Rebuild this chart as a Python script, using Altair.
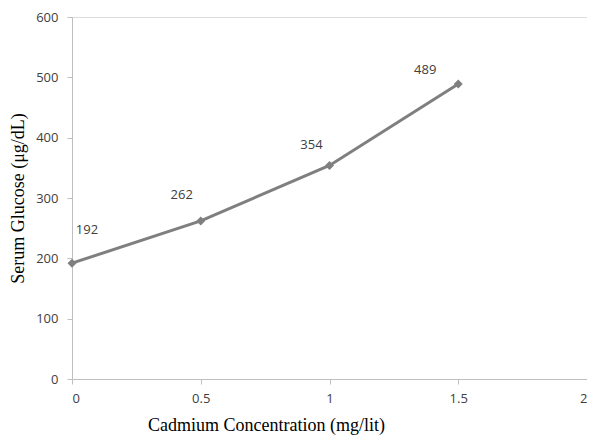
import altair as alt
import pandas as pd

conc = [0, 0.5, 1, 1.5]
glucose = [192, 262, 354, 489]
labels = ["192", "262", "354", "489"]

df = pd.DataFrame({"conc": conc, "glucose": glucose, "label": labels})

x = alt.X("conc:Q", scale=alt.Scale(domain=[0, 2]),
          axis=alt.Axis(values=[0, 0.5, 1, 1.5, 2], format="~g", grid=False,
                        title="Cadmium Concentration (mg/lit)",
                        titleFont="Liberation Serif", titleFontSize=18, titleFontWeight="normal",
                        titleColor="#000000", titleX=194, titleY=46, titleAnchor="middle",
                        titleBaseline="middle",
                        labelFont="Open Sans", labelFontSize=13, labelColor="#404040",
                        labelPadding=8, domainColor="#bfbfbf", tickColor="#bfbfbf", tickSize=5))
y = alt.Y("glucose:Q", scale=alt.Scale(domain=[0, 600]),
          axis=alt.Axis(values=[0, 100, 200, 300, 400, 500, 600], grid=False,
                        title="Serum Glucose (μg/dL)",
                        titleFont="Liberation Serif", titleFontSize=18, titleFontWeight="normal",
                        titleColor="#000000", titleX=-54, titleAnchor="middle",
                        titleBaseline="middle",
                        labelFont="Open Sans", labelFontSize=13, labelColor="#404040",
                        labelPadding=9, domainColor="#bfbfbf", tickColor="#bfbfbf", tickSize=5))

base = alt.Chart(df)
line = base.mark_line(color="#7f7f7f", strokeWidth=3).encode(x=x, y=y)
pts = base.mark_point(shape="diamond", filled=True, color="#7f7f7f", size=80, opacity=1).encode(x="conc:Q", y="glucose:Q")

offsets = {"192": (15, -33), "262": (-19, -26), "354": (-18, -20), "489": (-33, -14)}
texts = []
for lab, (dx, dy) in offsets.items():
    texts.append(
        base.transform_filter(alt.datum.label == lab)
        .mark_text(dx=dx, dy=dy, font="Open Sans", fontSize=13, color="#404040")
        .encode(x="conc:Q", y="glucose:Q", text="label:N")
    )

chart = alt.layer(line, pts, *texts).properties(
    width=515, height=362,
    autosize=alt.AutoSizeParams(type="none"),
    padding={"left": 64, "top": 9, "right": 0, "bottom": 57},
).configure_view(stroke="#bfbfbf", strokeWidth=1).configure(background="white")

chart.save("out.html", embed_options={"renderer": "svg", "actions": False})
